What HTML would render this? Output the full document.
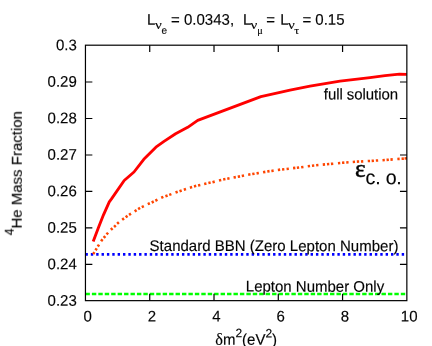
<!DOCTYPE html>
<html><head><meta charset="utf-8"><title>plot</title>
<style>
html,body{margin:0;padding:0;background:#fff;}
body{width:432px;height:346px;overflow:hidden;}
svg{display:block;}
text{font-family:"Liberation Sans",sans-serif;font-size:15px;fill:#000;stroke:#000;stroke-width:0.15px;}
.sym{font-family:"Liberation Serif",serif;}
</style></head><body>
<svg width="432" height="346" viewBox="0 0 432 346">
<rect x="0" y="0" width="432" height="346" fill="#fff"/>
<line x1="85.45" y1="293.95" x2="406.35" y2="293.95" stroke="#00ff00" stroke-width="2.4" stroke-dasharray="4.4 2.036"/>
<line x1="85.47" y1="254.45" x2="405.35" y2="254.45" stroke="#0000ff" stroke-width="2.7" stroke-dasharray="2.4 2.96"/>
<path d="M93.20 254.08L94.40 252.12M95.50 250.28L96.70 248.32M97.78 246.57L99.02 244.63M101.13 241.24L102.47 239.36M103.77 237.89L105.23 236.11M106.53 234.45L108.07 232.75M110.88 229.80L112.52 228.20M114.06 226.99L115.74 225.41M117.13 223.85L118.87 222.35M122.18 219.79L124.02 218.41M125.66 217.27L127.54 215.93M129.03 214.82L130.97 213.58M134.63 211.41L136.57 210.19M138.11 209.08L140.09 207.92M141.77 207.11L143.83 206.09M147.76 204.18L149.84 203.22M151.66 202.48L153.74 201.52M155.37 200.71L157.43 199.69M161.25 197.76L163.35 196.84M165.41 196.18L167.59 195.42M169.22 194.90L171.38 194.10M175.52 192.49L177.68 191.71M179.51 191.17L181.69 190.43M183.81 189.66L185.99 188.94M189.90 187.74L192.10 187.06M193.99 186.40L196.21 185.80M198.08 185.46L200.32 184.94M204.18 183.96L206.42 183.44M208.38 183.04L210.62 182.56M212.48 182.17L214.72 181.63M218.98 180.47L221.22 179.93M223.17 179.53L225.43 179.07M227.27 178.72L229.53 178.28M233.57 177.50L235.83 177.10M237.77 176.81L240.03 176.39M241.77 176.03L244.03 175.57M248.17 174.70L250.43 174.30M252.26 174.08L254.54 173.72M256.57 173.39L258.83 173.01M263.07 172.30L265.33 171.90M267.26 171.48L269.54 171.12M271.36 170.96L273.64 170.64M277.86 169.96L280.14 169.64M282.06 169.42L284.34 169.18M286.56 169.03L288.84 168.77M293.06 168.14L295.34 167.86M296.86 167.73L299.14 167.47M301.16 167.26L303.44 166.94M307.76 166.26L310.04 165.94M311.96 165.72L314.24 165.48M316.16 165.32L318.44 165.08M322.76 164.62L325.04 164.38M326.95 164.20L329.25 164.00M330.95 163.90L333.25 163.70M337.96 163.21L340.24 162.99M342.05 162.80L344.35 162.60M346.25 162.49L348.55 162.31M352.75 161.94L355.05 161.76M356.85 161.66L359.15 161.54M360.95 161.46L363.25 161.34M367.75 161.06L370.05 160.94M371.65 160.87L373.95 160.73M375.85 160.57L378.15 160.43M382.50 160.18L384.80 160.02M386.55 159.89L388.85 159.71M390.45 159.59L392.75 159.41M397.35 159.03L399.65 158.87M401.55 158.79L403.85 158.61M404.56 158.51L406.84 158.29" stroke="#ff4500" stroke-width="2.6" fill="none"/>
<polyline points="93.2,241.6 98.3,228 103.5,214.8 109.3,201.8 111.5,198.9 124.2,180.5 134.0,172.0 143.8,159.3 155.9,147.2 164,141.4 175.6,133.8 187.7,127.3 197.7,120.4 260.9,96.6 280,92.4 290,90.1 300,88.1 310,86.2 325,83.6 340,81.2 355,79.4 370,77.6 385,75.7 399.5,74.2 406.75,74.3" stroke="#ff0000" stroke-width="2.85" fill="none" stroke-linejoin="round"/>
<path d="M85.45 264.46h6.9M406.85 264.46h-6.9M85.45 227.96h6.9M406.85 227.96h-6.9M85.45 191.47h6.9M406.85 191.47h-6.9M85.45 154.98h6.9M406.85 154.98h-6.9M85.45 118.49h6.9M406.85 118.49h-6.9M85.45 81.99h6.9M406.85 81.99h-6.9M149.73 300.65v-6.9M149.73 45.2v6.9M214.01 300.65v-6.9M214.01 45.2v6.9M278.29 300.65v-6.9M278.29 45.2v6.9M342.57 300.65v-6.9M342.57 45.2v6.9" stroke="#000" stroke-width="1.2" fill="none"/>
<rect x="85.45" y="45.2" width="321.40000000000003" height="255.45" fill="none" stroke="#000" stroke-width="1.2"/>
<g opacity="0.99">
<text transform="translate(76.80,305.75) rotate(0.05) scale(1,1.03)" text-anchor="end">0.23</text>
<text transform="translate(76.80,269.26) rotate(0.05) scale(1,1.03)" text-anchor="end">0.24</text>
<text transform="translate(76.80,232.76) rotate(0.05) scale(1,1.03)" text-anchor="end">0.25</text>
<text transform="translate(76.80,196.27) rotate(0.05) scale(1,1.03)" text-anchor="end">0.26</text>
<text transform="translate(76.80,159.78) rotate(0.05) scale(1,1.03)" text-anchor="end">0.27</text>
<text transform="translate(76.80,123.29) rotate(0.05) scale(1,1.03)" text-anchor="end">0.28</text>
<text transform="translate(76.80,86.79) rotate(0.05) scale(1,1.03)" text-anchor="end">0.29</text>
<text transform="translate(76.80,50.30) rotate(0.05) scale(1,1.03)" text-anchor="end">0.3</text>
<text transform="translate(87.75,321.40) rotate(0.05) scale(1,1.03)" text-anchor="middle">0</text>
<text transform="translate(152.03,321.40) rotate(0.05) scale(1,1.03)" text-anchor="middle">2</text>
<text transform="translate(216.31,321.40) rotate(0.05) scale(1,1.03)" text-anchor="middle">4</text>
<text transform="translate(280.59,321.40) rotate(0.05) scale(1,1.03)" text-anchor="middle">6</text>
<text transform="translate(344.87,321.40) rotate(0.05) scale(1,1.03)" text-anchor="middle">8</text>
<text transform="translate(409.15,321.40) rotate(0.05) scale(1,1.03)" text-anchor="middle">10</text>
<text transform="translate(147.10,24.80) rotate(0.05) scale(1,1.03)">L</text>
<text class="sym" x="154.9" y="29.3" style="font-size:13px" textLength="6.8" lengthAdjust="spacingAndGlyphs">ν</text>
<text transform="translate(161.40,33.80) rotate(0.05) scale(1,1.03)" style="font-size:10px">e</text>
<text transform="translate(171.10,24.80) rotate(0.05) scale(1,1.03)">= 0.0343,</text>
<text transform="translate(243.10,24.80) rotate(0.05) scale(1,1.03)">L</text>
<text class="sym" x="250.5" y="29.3" style="font-size:13px" textLength="6.8" lengthAdjust="spacingAndGlyphs">ν</text>
<text class="sym" x="257.3" y="33.8" style="font-size:10px" textLength="5.5" lengthAdjust="spacingAndGlyphs">μ</text>
<text transform="translate(266.35,24.80) rotate(0.05) scale(1,1.03)">=</text>
<text transform="translate(280.15,24.80) rotate(0.05) scale(1,1.03)">L</text>
<text class="sym" x="288.0" y="29.3" style="font-size:13px" textLength="6.8" lengthAdjust="spacingAndGlyphs">ν</text>
<text class="sym" x="294.3" y="33.8" style="font-size:10px" textLength="4.9" lengthAdjust="spacingAndGlyphs">τ</text>
<text transform="translate(302.45,24.80) rotate(0.05) scale(1,1.03)">= 0.15</text>
<text class="sym" x="215.2" y="344.75" style="font-size:16.4px" textLength="7.7" lengthAdjust="spacingAndGlyphs">δ</text>
<text transform="translate(222.90,344.75) rotate(0.05) scale(1,1.03)">m<tspan font-size="12" dy="-7.2">2</tspan><tspan dy="7.2">(eV</tspan><tspan font-size="12" dy="-7.2">2</tspan><tspan dy="7.2">)</tspan></text>
<text transform="translate(21.30,235.30) rotate(-89.95) scale(1,1.03)"><tspan font-size="12" dy="-7.2">4</tspan><tspan dy="7.2">He Mass Fraction</tspan></text>
<text transform="translate(323.80,99.40) rotate(0.05) scale(1,1.03)" textLength="74.3" lengthAdjust="spacing">full solution</text>
<text transform="translate(149.60,251.00) rotate(0.05) scale(1,1.03)" textLength="248.8" lengthAdjust="spacing">Standard BBN (Zero Lepton Number)</text>
<text transform="translate(245.80,291.60) rotate(0.05) scale(1,1.03)">Lepton Number Only</text>
<text class="sym" x="355.1" y="177.0" style="font-size:26px;stroke-width:0.5px" textLength="10.6" lengthAdjust="spacingAndGlyphs">ε</text>
<text transform="translate(365.60,184.30) rotate(0.05) scale(1,1.03)" style="font-size:19.6px" textLength="36.2" lengthAdjust="spacing">c. o.</text>
</g>
</svg></body></html>
